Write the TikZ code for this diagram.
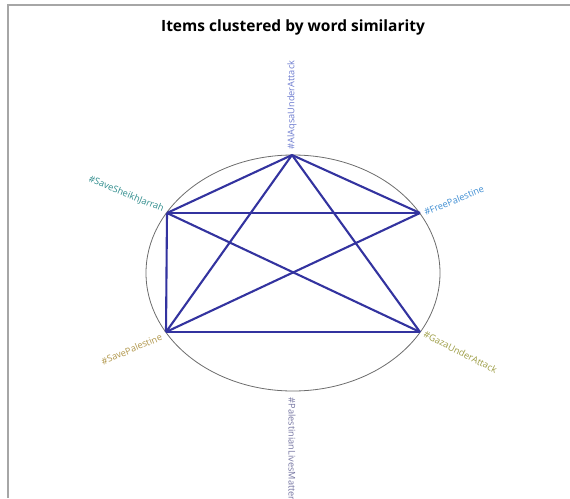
\documentclass[tikz,border=0pt]{standalone}
\usepackage{fontspec}
\setmainfont{Open Sans}
\usepackage{xcolor}
\usepackage{tikz}
\usetikzlibrary{positioning}

\definecolor{linkblue}{HTML}{33339F}
\definecolor{tagtop}{HTML}{6C7BCF}
\definecolor{tagteal}{HTML}{2F8C8C}
\definecolor{tagblue}{HTML}{3E8DD2}
\definecolor{taggold}{HTML}{B0964A}
\definecolor{tagolive}{HTML}{9C9C44}
\definecolor{tagslate}{HTML}{7676A2}

\begin{document}
\begin{tikzpicture}[
    x=1pt, y=-1pt,
    vertex/.style={
        circle,
        inner sep=0pt,
        minimum size=2pt
    },
    tag/.style={
        font=\fontsize{9.2}{10}\selectfont,
        inner sep=1.5pt
    },
    link/.style={
        draw=linkblue,
        line width=2.1pt
    },
    frame/.style={
        draw=gray!70,
        line width=1.5pt
    }
]
\useasboundingbox (0,0) rectangle (570,498);
\clip (0,0) rectangle (570,498);

% frame and title
\draw[frame] (8,498) -- (8,5) -- (570,5);
\node[font=\fontsize{15.5}{18}\selectfont\bfseries] (title) at (293,27)
{Items clustered by word similarity};

% ring
\draw[gray!85!black, line width=0.8pt] (293,273) ellipse [x radius=147pt, y radius=118pt];

% vertices
\node[vertex] (alaqsa) at (292,155) {};
\node[vertex] (sheikh) at (167,213) {};
\node[vertex] (free) at (420,213) {};
\node[vertex] (savep) at (166,332) {};
\node[vertex] (gaza) at (420,332) {};
\node[vertex] (lives) at (292,392) {};

% labels
\node[tag, text=tagtop, rotate=90, anchor=west] (alaqsatag) at (292,151) {\#AlAqsaUnderAttack};
\node[tag, text=tagteal, rotate=-22, anchor=east] (sheikhtag) at (165,210) {\#SaveSheikhJarrah};
\node[tag, text=tagblue, rotate=22, anchor=west] (freetag) at (423,213) {\#FreePalestine};
\node[tag, text=taggold, rotate=23, anchor=east] (saveptag) at (163,336) {\#SavePalestine};
\node[tag, text=tagolive, rotate=-27, anchor=west] (gazatag) at (423,333) {\#GazaUnderAttack};
\node[tag, text=tagslate, rotate=-90, anchor=west] (livestag) at (292,396) {\#PalestinianLivesMatter};

% links
\draw[link] (alaqsa.center) -- (sheikh.center);
\draw[link] (alaqsa.center) -- (free.center);
\draw[link] (alaqsa.center) -- (savep.center);
\draw[link] (alaqsa.center) -- (gaza.center);
\draw[link] (sheikh.center) -- (free.center);
\draw[link] (sheikh.center) -- (savep.center);
\draw[link] (sheikh.center) -- (gaza.center);
\draw[link] (free.center) -- (savep.center);
\draw[link] (savep.center) -- (gaza.center);

\end{tikzpicture}
\end{document}
